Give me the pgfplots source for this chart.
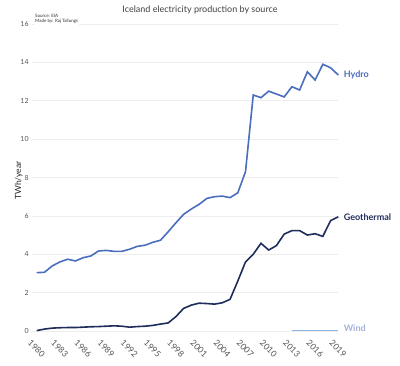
\documentclass[border=0pt]{standalone}
\usepackage{fontspec}
\setmainfont{Lato}
\usepackage{pgfplots}
\pgfplotsset{compat=1.18}
\definecolor{hydro}{HTML}{4A6DBE}
\definecolor{geo}{HTML}{1F2D5C}
\definecolor{wind}{HTML}{8CB8E2}
\definecolor{windtxt}{HTML}{A3B1DB}
\definecolor{tick}{HTML}{555555}
\begin{document}
\begin{tikzpicture}
\useasboundingbox (0,0) rectangle (400pt,366pt);
\begin{axis}[
  at={(32.1pt,35pt)}, anchor=south west,
  scale only axis, width=306.2pt, height=307pt,
  xmin=1979.4, xmax=2019, ymin=0, ymax=16,
  axis line style={draw=none},
  ytick={0,2,...,16}, xtick={1980,1983,...,2019},
  major tick length=0pt,
  ymajorgrids, grid style={draw=black!7, line width=0.6pt},
  xticklabel style={rotate=-45, anchor=north west, font=\fontsize{8.5}{9}\selectfont, text=tick, xshift=-1pt, yshift=-6pt},
  yticklabel style={font=\fontsize{7}{8}\selectfont, text=tick},
  x tick label style={/pgf/number format/.cd, 1000 sep={}},
  /pgf/number format/assume math mode=true,
  ylabel={TWh/year}, ylabel style={font=\fontsize{8.5}{9}\selectfont, text=black!85, at={(axis description cs:0,0.49)}, yshift=6pt},
  clip=false,
]
\addplot[hydro, line width=1.6pt] coordinates {
(1980,3.04)(1981,3.06)(1982,3.39)(1983,3.6)(1984,3.74)(1985,3.65)(1986,3.82)(1987,3.91)(1988,4.17)(1989,4.2)
(1990,4.15)(1991,4.15)(1992,4.26)(1993,4.41)(1994,4.47)(1995,4.62)(1996,4.73)(1997,5.17)(1998,5.64)(1999,6.08)
(2000,6.36)(2001,6.6)(2002,6.91)(2003,7.0)(2004,7.03)(2005,6.95)(2006,7.2)(2007,8.3)(2008,12.3)(2009,12.16)
(2010,12.5)(2011,12.35)(2012,12.2)(2013,12.73)(2014,12.56)(2015,13.51)(2016,13.08)(2017,13.9)(2018,13.72)(2019,13.34)
};
\addplot[geo, line width=1.6pt] coordinates {
(1980,0.02)(1981,0.1)(1982,0.15)(1983,0.17)(1984,0.18)(1985,0.18)(1986,0.2)(1987,0.22)(1988,0.23)(1989,0.25)
(1990,0.27)(1991,0.25)(1992,0.2)(1993,0.23)(1994,0.25)(1995,0.29)(1996,0.36)(1997,0.42)(1998,0.75)(1999,1.18)
(2000,1.35)(2001,1.45)(2002,1.43)(2003,1.40)(2004,1.47)(2005,1.65)(2006,2.6)(2007,3.6)(2008,4.0)(2009,4.57)
(2010,4.22)(2011,4.45)(2012,5.05)(2013,5.23)(2014,5.23)(2015,5.0)(2016,5.07)(2017,4.93)(2018,5.75)(2019,5.95)
};
\addplot[wind, line width=1.2pt] coordinates {
(2013,0.02)(2014,0.02)(2015,0.02)(2016,0.02)(2017,0.02)(2018,0.02)(2019,0.02)
};
\node[anchor=west, text=hydro, font=\fontsize{9}{10}\selectfont\bfseries] at (axis cs:2019,13.34) {\hspace{2pt}Hydro};
\node[anchor=west, text=geo, font=\fontsize{9}{10}\selectfont\bfseries] at (axis cs:2019,5.95) {\hspace{2pt}Geothermal};
\node[anchor=west, text=windtxt, font=\fontsize{9}{10}\selectfont\bfseries] at (axis cs:2019,0.15) {\hspace{2pt}Wind};
\end{axis}
\node[anchor=north west, fill=white, inner sep=1pt, align=left, font=\fontsize{4.5}{5.5}\selectfont, text=black!80] at (34pt,353pt) {Source: EIA\\Made by: Raj Tallungs};
\node[font=\fontsize{9}{10}\selectfont, text=black!75] at (200pt,356pt) {Iceland electricity production by source};
\end{tikzpicture}
\end{document}
